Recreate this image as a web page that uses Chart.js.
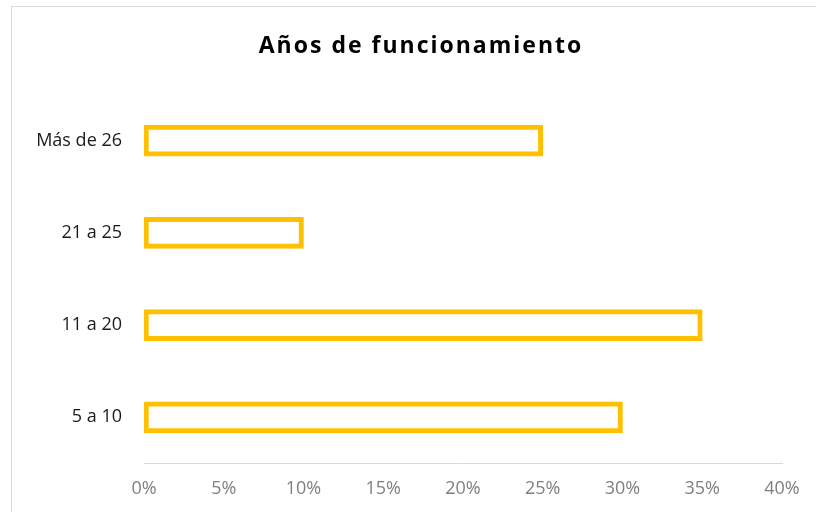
<!DOCTYPE html>
<html lang="es">
<head>
<meta charset="utf-8">
<title>Años de funcionamiento</title>
<script src="https://cdn.jsdelivr.net/npm/chart.js@4"></script>
<style>
    html, body { margin: 0; padding: 0; background: #fff; overflow: hidden; }
    body { width: 816px; height: 512px; position: relative; }
    #frame {
        position: absolute; left: 11px; top: 6px;
        width: 818px; height: 520px;
        border: 1px solid #d9d9d9; background: #fff;
    }
    #chart { display: block; }
</style>
</head>
<body>
<div id="frame"><canvas id="chart" width="818" height="520"></canvas></div>
<script>
    // categorías (de arriba hacia abajo) y porcentajes
    const categories = ['Más de 26', '21 a 25', '11 a 20', '5 a 10'];
    const percentages = [25, 10, 35, 30];
    const tickMax = 40;
    const tickStep = 5;

    const font = "'Open Sans', 'Liberation Sans', sans-serif";

    // título con espaciado entre letras
    const titleSpacing = {
        id: 'titleSpacing',
        beforeDraw(chart) {
            const block = chart.titleBlock;
            if (!block || block._spaced) return;
            const draw = block.draw.bind(block);
            block.draw = area => {
                chart.ctx.letterSpacing = '2px';
                draw(area);
                chart.ctx.letterSpacing = '0px';
            };
            block._spaced = true;
        }
    };

    new Chart(document.getElementById('chart'), {
        type: 'bar',
        data: {
            labels: categories,
            datasets: [{
                data: percentages,
                backgroundColor: '#ffffff',
                borderColor: '#ffc000',
                borderWidth: 5,
                borderSkipped: false,
                barThickness: 31
            }]
        },
        plugins: [titleSpacing],
        options: {
            indexAxis: 'y',
            responsive: false,
            animation: false,
            layout: { padding: { left: 0, right: 0, top: 0, bottom: 12 } },
            plugins: {
                legend: { display: false },
                tooltip: { enabled: false },
                title: {
                    display: true,
                    text: 'Años de funcionamiento',
                    color: '#000',
                    font: { family: font, size: 23, weight: 'bold' },
                    padding: { top: 26, bottom: 34 }
                }
            },
            scales: {
                x: {
                    min: 0,
                    max: tickMax,
                    ticks: {
                        stepSize: tickStep,
                        color: '#7f7f7f',
                        font: { family: font, size: 18 },
                        padding: 15,
                        callback: v => v + '%'
                    },
                    grid: { display: false, drawTicks: false },
                    border: { display: true, color: '#d9d9d9', width: 1 },
                    // espacio libre a la derecha del área de trazado
                    afterFit: scale => { scale.paddingRight = 48; }
                },
                y: {
                    ticks: {
                        color: '#1a1a1a',
                        font: { family: font, size: 18 },
                        padding: 22
                    },
                    grid: { display: false, drawTicks: false },
                    border: { display: false },
                    afterFit: scale => { scale.width = 132; }
                }
            }
        }
    });
</script>
</body>
</html>
